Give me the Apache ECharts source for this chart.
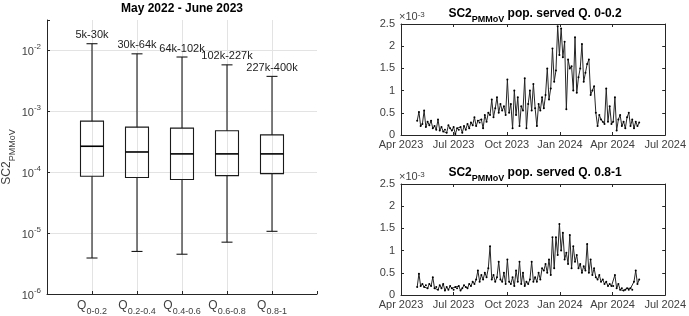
<!DOCTYPE html>
<html>
<head>
<meta charset="utf-8">
<script src="https://cdn.jsdelivr.net/npm/echarts@6/dist/echarts.min.js"></script>
<style>
  html, body { margin: 0; padding: 0; background: #fff; }
  #chart { width: 689px; height: 316px; }
</style>
</head>
<body>
<div id="chart"></div>
<script>
// ---- left panel: box plots by population served quintile ----
var groupNames = ['0-0.2', '0.2-0.4', '0.4-0.6', '0.6-0.8', '0.8-1'];
var groupRanges = ['5k-30k', '30k-64k', '64k-102k', '102k-227k', '227k-400k'];
// [low whisker, Q1, median, Q3, high whisker]
var boxLow = [3.9e-6, 5.0e-6, 4.5e-6, 7.1e-6, 1.07e-5];
var boxQ1 = [8.6e-5, 8.2e-5, 7.6e-5, 8.8e-5, 9.5e-5];
var boxMed = [2.67e-4, 2.15e-4, 2.0e-4, 2.0e-4, 2.0e-4];
var boxQ3 = [6.9e-4, 5.5e-4, 5.3e-4, 4.8e-4, 4.1e-4];
var boxHigh = [1.29e-2, 8.8e-3, 7.8e-3, 5.8e-3, 3.75e-3];

// ---- right panels: time series (x10^-3), one sample every 3 days ----
var sampleStart = Date.UTC(2023, 3, 29);
var sampleStepDays = 3;
var q1Values = [
  0.32, 0.52, 0.2, 0.25, 0.55, 0.18, 0.3, 0.22, 0.32, 0.15, 0.2,
  0.12, 0.35, 0.1, 0.18, 0.08, 0.12, 0.05, 0.22, 0.15, 0.1,
  0.18, 0.02, 0.15, 0.12, 0.18, 0.05, 0.2, 0.12, 0.25, 0.15, 0.28,
  0.22, 0.4, 0.2, 0.32, 0.28, 0.35, 0.15, 0.45, 0.3, 0.5,
  0.45, 0.8, 0.4, 0.6, 0.85, 0.5, 0.7, 0.55, 0.65, 0.45,
  1.25, 0.5, 0.7, 0.15, 1.0, 0.45, 0.85, 0.2, 0.65, 0.55,
  1.28, 0.15, 0.7, 1.0, 0.55, 1.15, 0.6, 0.2, 0.7, 0.55,
  0.85, 0.6, 0.9, 1.5, 0.8, 1.05, 1.95, 1.2, 1.45, 2.45, 1.8,
  2.4, 1.75, 2.1, 0.58, 1.7, 1.5, 1.55, 1.0, 2.2, 0.95,
  1.3, 1.5, 2.05, 1.2, 1.4, 1.6, 1.7, 0.9, 1.0, 1.1,
  0.5, 0.2, 0.45, 0.35, 0.3, 0.25, 1.05, 0.3, 0.65, 0.25,
  0.3, 0.85, 0.1, 0.35, 0.45, 0.2, 0.3, 0.15, 0.4, 0.5,
  0.2, 0.35, 0.15, 0.3, 0.2, 0.28
];
var q5Values = [
  0.18, 0.48, 0.2, 0.25, 0.18, 0.22, 0.15, 0.25, 0.2, 0.4, 0.15,
  0.18, 0.12, 0.22, 0.15, 0.25, 0.1, 0.18, 0.12, 0.2, 0.15,
  0.12, 0.18, 0.15, 0.2, 0.1, 0.15, 0.22, 0.18, 0.15, 0.25, 0.2,
  0.3, 0.25, 0.35, 0.55, 0.3, 0.45, 0.35, 0.5, 0.4, 0.6,
  1.1, 0.35, 0.45, 0.3, 0.4, 0.75, 0.35, 0.3, 0.5, 0.25,
  0.8, 0.3, 0.25, 0.4, 0.2, 0.55, 0.3, 0.75, 0.25, 0.5,
  0.2, 0.3, 0.25, 0.35, 0.75, 0.3, 0.4, 0.3, 0.5, 0.35,
  0.6, 0.55, 0.7, 0.5, 0.8, 0.45, 1.3, 0.6, 1.3, 0.9, 1.6,
  1.0, 1.4, 0.8, 0.95, 0.7, 1.35, 0.6, 1.1, 0.75, 0.9,
  0.6, 0.7, 0.5, 0.65, 0.55, 1.15, 0.5, 0.8, 0.45, 0.6,
  0.4, 0.35, 0.45, 0.3, 0.35, 0.25, 0.3, 0.2, 0.25, 0.2,
  0.2, 0.45, 0.15, 0.25, 0.12, 0.15, 0.1, 0.12, 0.15, 0.12,
  0.15, 0.12, 0.3, 0.55, 0.25, 0.35
];
var quarterTicks = [
  Date.UTC(2023, 3, 1), Date.UTC(2023, 6, 1), Date.UTC(2023, 9, 1),
  Date.UTC(2024, 0, 1), Date.UTC(2024, 3, 1), Date.UTC(2024, 6, 1)
];
var monthNames = ['Jan', 'Feb', 'Mar', 'Apr', 'May', 'Jun', 'Jul', 'Aug', 'Sep', 'Oct', 'Nov', 'Dec'];

function toSeries(vals) {
  var out = [];
  for (var i = 0; i < vals.length; i++) {
    out.push([sampleStart + i * sampleStepDays * 86400000, vals[i]]);
  }
  return out;
}

var boxData = [];
for (var i = 0; i < groupNames.length; i++) {
  boxData.push([i + 1, boxLow[i], boxQ1[i], boxMed[i], boxQ3[i], boxHigh[i]]);
}

var FONT = 'Liberation Sans';
var AX = '#262626';
var LBL = '#404040';

function supRich(big, small) {
  return {
    b: { fontFamily: FONT, fontSize: big, color: LBL, padding: [4, 0, 0, 0], verticalAlign: 'top' },
    s: { fontFamily: FONT, fontSize: small, color: LBL, verticalAlign: 'top' }
  };
}
var subTitleRich = {
  a: { fontFamily: FONT, fontSize: 12, fontWeight: 'bold', color: '#000', verticalAlign: 'top' },
  s: { fontFamily: FONT, fontSize: 9, fontWeight: 'bold', color: '#000', padding: [7, 0, 0, 0], verticalAlign: 'top' }
};

// dates drawn on a plain value axis (ms), ticks placed at quarter starts
function timeX(gridIndex, pos) {
  var top = pos === 'top';
  return {
    type: 'value', gridIndex: gridIndex, position: pos,
    min: quarterTicks[0], max: quarterTicks[quarterTicks.length - 1],
    axisLine: { show: true, onZero: false, lineStyle: { color: AX, width: 1 } },
    axisTick: { show: true, inside: true, length: 3, customValues: quarterTicks, lineStyle: { color: AX } },
    axisLabel: {
      show: !top, customValues: quarterTicks, color: LBL, fontFamily: FONT, fontSize: 11, margin: 4,
      formatter: function (v) {
        var d = new Date(v);
        return monthNames[d.getUTCMonth()] + ' ' + d.getUTCFullYear();
      }
    },
    splitLine: { show: false }
  };
}
function linY(gridIndex, pos) {
  var right = pos === 'right';
  return {
    type: 'value', gridIndex: gridIndex, position: pos,
    min: 0, max: 2.5, interval: 0.5,
    name: right ? '' : '×10{s|-3}',
    nameLocation: 'end', nameGap: 2,
    nameTextStyle: { align: 'left', padding: [0, 0, 0, -2], rich: supRich(11, 8), fontFamily: FONT, fontSize: 11, color: LBL },
    axisLine: { show: true, lineStyle: { color: AX, width: 1 } },
    axisTick: { show: true, inside: true, length: 3, lineStyle: { color: AX } },
    axisLabel: { show: !right, color: LBL, fontFamily: FONT, fontSize: 11, margin: 6 },
    splitLine: { show: false }
  };
}

var chart = echarts.init(document.getElementById('chart'));
var option = {
  animation: false,
  backgroundColor: '#fff',
  title: [
    { text: 'May 2022 - June 2023', left: 182, top: 3, padding: 0, textAlign: 'center',
      textStyle: { fontFamily: FONT, fontSize: 12, fontWeight: 'bold', color: '#000' } },
    { text: '{a|SC2}{s|PMMoV}{a| pop. served Q. 0-0.2}', left: 535, top: 8, padding: 0, textAlign: 'center',
      textStyle: { rich: subTitleRich } },
    { text: '{a|SC2}{s|PMMoV}{a| pop. served Q. 0.8-1}', left: 535, top: 167, padding: 0, textAlign: 'center',
      textStyle: { rich: subTitleRich } }
  ],
  grid: [
    { left: 47, right: 372, top: 20, bottom: 22 },
    { left: 401, right: 19, top: 24, bottom: 181 },
    { left: 401, right: 19, top: 184, bottom: 21 }
  ],
  xAxis: [
    {
      type: 'category', gridIndex: 0, boundaryGap: false,
      data: [''].concat(groupNames).concat(['']),
      axisLine: { lineStyle: { color: AX, width: 1 } },
      axisTick: { inside: true, length: 3, lineStyle: { color: AX } },
      axisLabel: {
        margin: 6, interval: 0,
        formatter: function (v) { return v ? '{q|Q}{s|' + v + '}' : ''; },
        rich: {
          q: { fontFamily: FONT, fontSize: 12, color: LBL, verticalAlign: 'top' },
          s: { fontFamily: FONT, fontSize: 9, color: LBL, padding: [7, 0, 0, 0], verticalAlign: 'top' }
        }
      },
      splitLine: {
        show: true, interval: function (i) { return i > 0 && i < 6; },
        lineStyle: { color: '#e3e3e3', width: 1 }
      }
    },
    timeX(1, 'bottom'), timeX(1, 'top'),
    timeX(2, 'bottom'), timeX(2, 'top')
  ],
  yAxis: [
    {
      type: 'log', gridIndex: 0, logBase: 10,
      min: 1e-6, max: Math.pow(10, -1.5),
      name: '{a|SC2}{s|PMMoV}', nameLocation: 'middle', nameRotate: 90, nameGap: 30,
      nameTextStyle: {
        rich: {
          a: { fontFamily: FONT, fontSize: 12, color: LBL, verticalAlign: 'top' },
          s: { fontFamily: FONT, fontSize: 9, color: LBL, padding: [7, 0, 0, 0], verticalAlign: 'top' }
        }
      },
      axisLine: { show: true, lineStyle: { color: AX, width: 1 } },
      axisTick: { show: true, inside: true, length: 3, lineStyle: { color: AX } },
      axisLabel: {
        margin: 6,
        formatter: function (v) {
          var lg = Math.log10(v), e = Math.round(lg);
          if (Math.abs(lg - e) > 0.01) return '';
          return '{b|10}{s|' + e + '}';
        },
        rich: supRich(11, 8)
      },
      splitLine: { show: true, showMaxLine: false, lineStyle: { color: '#e3e3e3', width: 1 } }
    },
    linY(1, 'left'), linY(1, 'right'),
    linY(2, 'left'), linY(2, 'right')
  ],
  series: [
    {
      type: 'custom', xAxisIndex: 0, yAxisIndex: 0,
      data: boxData,
      renderItem: function (params, api) {
        var x = api.value(0);
        var lo = api.coord([x, api.value(1)]);
        var q1 = api.coord([x, api.value(2)]);
        var md = api.coord([x, api.value(3)]);
        var q3 = api.coord([x, api.value(4)]);
        var hi = api.coord([x, api.value(5)]);
        var cx = lo[0], hw = 11.5, cw = 5.5;
        var ls = { stroke: '#1a1a1a', lineWidth: 1.1, fill: null };
        return {
          type: 'group',
          children: [
            { type: 'line', shape: { x1: cx, y1: q3[1], x2: cx, y2: hi[1] }, style: ls },
            { type: 'line', shape: { x1: cx, y1: q1[1], x2: cx, y2: lo[1] }, style: ls },
            { type: 'line', shape: { x1: cx - cw, y1: hi[1], x2: cx + cw, y2: hi[1] }, style: ls },
            { type: 'line', shape: { x1: cx - cw, y1: lo[1], x2: cx + cw, y2: lo[1] }, style: ls },
            { type: 'rect', shape: { x: cx - hw, y: q3[1], width: 2 * hw, height: q1[1] - q3[1] },
              style: { stroke: '#1a1a1a', lineWidth: 1.1, fill: 'rgba(0,0,0,0)' } },
            { type: 'line', shape: { x1: cx - hw, y1: md[1], x2: cx + hw, y2: md[1] },
              style: { stroke: '#000', lineWidth: 1.6 } },
            { type: 'text', style: {
                text: groupRanges[params.dataIndex], x: cx, y: hi[1] - 3,
                align: 'center', verticalAlign: 'bottom',
                font: '11px "Liberation Sans"', fill: '#222'
              } }
          ]
        };
      }
    },
    {
      type: 'line', xAxisIndex: 1, yAxisIndex: 1,
      data: toSeries(q1Values),
      symbol: 'circle', symbolSize: 2, showSymbol: true,
      lineStyle: { color: '#262626', width: 1 },
      itemStyle: { color: '#000' }
    },
    {
      type: 'line', xAxisIndex: 3, yAxisIndex: 3,
      data: toSeries(q5Values),
      symbol: 'circle', symbolSize: 2, showSymbol: true,
      lineStyle: { color: '#262626', width: 1 },
      itemStyle: { color: '#000' }
    }
  ]
};
chart.setOption(option);
</script>
</body>
</html>
